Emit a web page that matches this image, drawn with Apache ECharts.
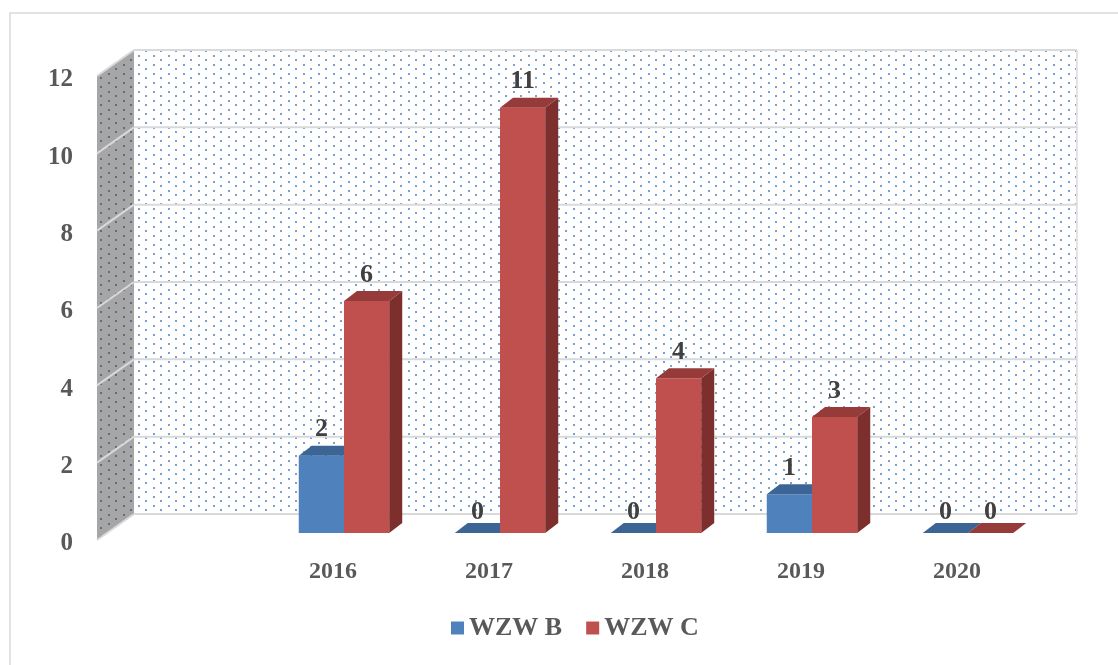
<!DOCTYPE html>
<html>
<head>
<meta charset="utf-8">
<title>WZW B / WZW C</title>
<script src="https://cdn.jsdelivr.net/npm/echarts@6/dist/echarts.min.js"></script>
<style>
html, body { margin: 0; padding: 0; background: #fff; }
#chart { width: 1118px; height: 665px; }
</style>
</head>
<body>
<div id="chart"></div>
<script>
// 数据
const categories = ['', '2016', '2017', '2018', '2019', '2020'];
const wzwB = [null, 2, 0, 0, 1, 0];
const wzwC = [null, 6, 11, 4, 3, 0];
const yTicks = [0, 2, 4, 6, 8, 10, 12];

const font = '"Liberation Serif", "Times New Roman", serif';

// 背景墙的点状纹理
const makeDots = (bg, dot) => {
	const c = document.createElement('canvas');
	c.width = 15;
	c.height = 9;
	const ctx = c.getContext('2d');
	if (bg) {
		ctx.fillStyle = bg;
		ctx.fillRect(0, 0, 15, 9);
	}
	ctx.fillStyle = dot;
	ctx.fillRect(3, 1, 2, 2);
	ctx.fillRect(10, 5, 2, 2);
	return c;
}
const blueDots = makeDots(null, 'rgba(79,129,189,0.75)');
const grayDots = makeDots('#a6a6a6', '#5d6d86');

// 3D 偏移
const wallDx = 27, wallDy = -19;   // 背景墙相对柱子平面
const sideDx = -37, sideDy = 26;   // 侧墙前沿相对背景墙
const barDx = 13, barDy = 10;      // 柱子顶面/侧面厚度

const renderWall = (params, api) => {
	const cs = params.coordSys;
	const left = cs.x + 24;
	const right = cs.x + cs.width + 31;
	const top = api.coord([0, yTicks[yTicks.length - 1]])[1] + wallDy;
	const bottom = api.coord([0, 0])[1] + wallDy;
	const sidePts = [[left, top], [left, bottom], [left + sideDx, bottom + sideDy], [left + sideDx, top + sideDy]];
	const children = [
		{type: 'rect', shape: {x: left, y: top, width: right - left, height: bottom - top}, style: {fill: '#fff'}},
		{type: 'rect', shape: {x: left, y: top, width: right - left, height: bottom - top}, style: {fill: {image: blueDots, repeat: 'repeat'}}},
		{type: 'polygon', shape: {points: sidePts}, style: {fill: {image: grayDots, repeat: 'repeat'}}},
		{type: 'line', shape: {x1: right, y1: top, x2: right, y2: bottom}, style: {stroke: '#e3e3e3', lineWidth: 2}},
	];
	yTicks.forEach(v => {
		const y = api.coord([0, v])[1] + wallDy;
		children.push({type: 'line', shape: {x1: left, y1: y, x2: right, y2: y}, style: {stroke: '#d9d9d9', lineWidth: 2}});
		children.push({type: 'line', shape: {x1: left + sideDx, y1: y + sideDy, x2: left, y2: y}, style: {stroke: '#d9d9d9', lineWidth: 2}});
	});
	return {type: 'group', children};
}

const makeBarRender = (pos, colors) => (params, api) => {
	const idx = api.value(0);
	const val = api.value(1);
	const base = api.coord([idx, 0]);
	const topY = api.coord([idx, val])[1];
	const w = api.size([1, 0])[0] * 0.29;
	const x0 = pos === 0 ? base[0] - w : base[0];
	const x1 = x0 + w;
	const yb = base[1];
	const children = [];
	if (val > 0) {
		children.push({type: 'rect', shape: {x: x0, y: topY, width: w, height: yb - topY}, style: {fill: colors[0]}});
		children.push({type: 'polygon', shape: {points: [[x1, topY], [x1 + barDx, topY - barDy], [x1 + barDx, yb - barDy], [x1, yb]]}, style: {fill: colors[2]}});
	}
	children.push({type: 'polygon', shape: {points: [[x0, topY], [x1, topY], [x1 + barDx, topY - barDy], [x0 + barDx, topY - barDy]]}, style: {fill: colors[1]}});
	children.push({
		type: 'text',
		style: {
			x: x0 + w / 2, y: val > 0 ? topY - barDy - 3 : topY - barDy + 2,
			text: String(val), font: 'bold 26px ' + font, fill: '#404040',
			align: 'center', verticalAlign: 'bottom'
		}
	});
	return {type: 'group', children};
}

const toData = arr => arr.map((v, i) => [i, v]).filter(d => d[1] !== null);

let myChart = echarts.init(document.getElementById('chart'));
myChart.setOption({
	animation: false,
	backgroundColor: '#fff',
	graphic: [{
		type: 'rect', shape: {x: 10, y: 13, width: 1130, height: 680},
		style: {fill: 'none', stroke: '#d9d9d9', lineWidth: 1.5}, silent: true, z: -10
	}],
	legend: {
		data: ['WZW B', 'WZW C'],
		left: 446,
		top: 610,
		icon: 'rect',
		itemWidth: 13,
		itemHeight: 13,
		itemGap: 24,
		textStyle: {fontFamily: font, fontWeight: 'bold', fontSize: 26, color: '#595959'}
	},
	grid: [
		{left: 110, right: 72, top: 69, bottom: 132},
		{left: 97, right: 72, top: 80, bottom: 121}
	],
	xAxis: [
		{
			type: 'category', gridIndex: 0, data: categories,
			axisLine: {show: false}, axisTick: {show: false},
			axisLabel: {
				margin: 27, padding: [0, 22, 0, 0],
				fontFamily: font, fontWeight: 'bold', fontSize: 24, color: '#595959'
			}
		},
		{type: 'category', gridIndex: 1, data: categories, show: false}
	],
	yAxis: [
		{type: 'value', gridIndex: 0, min: 0, max: 12, interval: 2, show: false},
		{
			type: 'value', gridIndex: 1, min: 0, max: 12, interval: 2,
			axisLine: {show: false}, axisTick: {show: false}, splitLine: {show: false},
			axisLabel: {margin: 24, fontFamily: font, fontWeight: 'bold', fontSize: 25, color: '#595959'}
		}
	],
	series: [
		{
			name: 'wall', type: 'custom', xAxisIndex: 0, yAxisIndex: 0, z: 1, silent: true,
			data: [[0, 0]], renderItem: renderWall
		},
		{
			name: 'WZW B', type: 'custom', xAxisIndex: 0, yAxisIndex: 0, z: 2,
			itemStyle: {color: '#4f81bd'},
			data: toData(wzwB),
			renderItem: makeBarRender(0, ['#4f81bd', '#3c6494', '#355a86'])
		},
		{
			name: 'WZW C', type: 'custom', xAxisIndex: 0, yAxisIndex: 0, z: 3,
			itemStyle: {color: '#c0504d'},
			data: toData(wzwC),
			renderItem: makeBarRender(1, ['#c0504d', '#963b39', '#7d2f2d'])
		}
	]
});
</script>
</body>
</html>
